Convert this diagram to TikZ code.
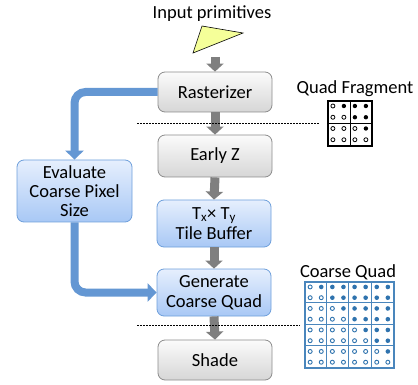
\documentclass[tikz,border=0pt]{standalone}
\usepackage{fontspec}
\setmainfont{Carlito}
\usetikzlibrary{arrows.meta,calc}
\definecolor{grayarr}{HTML}{7F7F7F}
\definecolor{grayedge}{HTML}{8C8C8C}
\definecolor{graytop}{HTML}{FBFBFB}
\definecolor{graybot}{HTML}{D6D6D6}
\definecolor{bluetop}{HTML}{E6EFFD}
\definecolor{bluebot}{HTML}{A8C8F5}
\definecolor{blueedge}{HTML}{6E9FDB}
\definecolor{blueline}{HTML}{6497D3}
\definecolor{griddot}{HTML}{2F73AE}
\definecolor{gridline}{HTML}{4A86BC}
\definecolor{tri}{HTML}{F5FF99}
\tikzset{
  x=1pt, y=-1pt,
  lbl/.style={font=\fontsize{18.5}{20}\selectfont, inner sep=0pt},
  graybox/.style={draw=grayedge, line width=0.8pt, rounded corners=7pt, top color=graytop, bottom color=graybot,
    minimum width=114pt, align=center, font=\fontsize{18.5}{20}\selectfont, inner sep=0pt},
  bluebox/.style={draw=blueedge, line width=0.8pt, rounded corners=7pt, top color=bluetop, bottom color=bluebot,
    minimum width=114pt, align=center, font=\fontsize{18.5}{20}\selectfont, inner sep=0pt},
  grayarrow/.style={draw=grayarr, line width=9pt, -{Triangle[width=17pt,length=8pt]}},
  bluearrow/.style={draw=blueline, line width=8pt, rounded corners=11pt, -{Triangle[width=18pt,length=9pt]}},
  sepline/.style={draw=black, line width=0.8pt, dash pattern=on 1.5pt off 1.5pt},
}
\begin{document}
\begin{tikzpicture}
\useasboundingbox (0,0) rectangle (418,385);
% title and triangle
\node[lbl, anchor=base] (title) at (212,19) {Input primitives};
\draw[black, line width=0.6pt, fill=tri] (202,26) -- (243,33) -- (193,53) -- cycle;
\coordinate (tribot) at (215,57);
% main column
\node[graybox, minimum height=40pt] (rast) at (215,92) {Rasterizer};
\node[graybox, minimum height=42pt] (early) at (215,156) {Early Z};
\node[bluebox, minimum height=47pt] (tile) at (214,223.5) {T\textsubscript{x}× T\textsubscript{y}\\Tile Buffer};
\node[bluebox, minimum height=47pt] (gen) at (214,292.5) {Generate\\Coarse Quad};
\node[graybox, minimum height=40pt] (shade) at (215,360) {Shade};
\node[bluebox, minimum width=115pt, minimum height=62pt, font=\fontsize{18.5}{19}\selectfont] (eval) at (74.5,191) {Evaluate\\Coarse Pixel\\Size};
% gray arrows
\draw[grayarrow] (tribot) -- (rast.north);
\draw[grayarrow] (rast.south) -- (early.north);
\draw[grayarrow] (early.south) -- (tile.north);
\draw[grayarrow] (tile.south) -- (gen.north);
\draw[grayarrow] (gen.south) -- (shade.north);
% blue arrows
\draw[bluearrow] (rast.west) -| (eval.north);
\draw[bluearrow] (eval.south) |- (gen.west);
% quad fragment
\node[lbl, anchor=base] (qftext) at (355,94) {Quad Fragment};
\node[draw=black, line width=1.2pt, minimum width=44pt, minimum height=45pt, inner sep=0pt] (qf) at (350,123.5) {};
\draw[black, line width=1pt] (qf.north) -- (qf.south) (qf.west) -- (qf.east);
\foreach \r in {0,...,3}{
  \foreach \c in {0,...,3}{
    \ifnum\c>\r
      \fill[black] ($(qf.north west)+(5.5+11*\c,5.6+11.25*\r)$) circle (2.2pt);
    \else
      \draw[black, line width=0.8pt, fill=white] ($(qf.north west)+(5.5+11*\c,5.6+11.25*\r)$) circle (2pt);
    \fi
  }
}
\coordinate (qfl) at (320,123);
\draw[sepline] (137,123) -- (qfl);
% coarse quad
\node[lbl, anchor=base] (cqtext) at (348,277) {Coarse Quad};
\node[draw=gridline, line width=1.3pt, minimum width=89pt, minimum height=86pt, inner sep=0pt] (cq) at (349.5,325) {};
\foreach \i in {1,2,3}{
  \draw[gridline, line width=1pt] ($(cq.north west)+(22.25*\i,0)$) -- ($(cq.south west)+(22.25*\i,0)$);
  \draw[gridline, line width=1pt] ($(cq.north west)+(0,21.5*\i)$) -- ($(cq.north east)+(0,21.5*\i)$);
}
\foreach \r in {0,...,7}{
  \foreach \c in {0,...,7}{
    \ifnum\c>\r
      \fill[griddot] ($(cq.north west)+(5.8+11.1*\c,5.6+10.75*\r)$) circle (2.3pt);
    \else
      \draw[griddot, line width=0.9pt, fill=white] ($(cq.north west)+(5.8+11.1*\c,5.6+10.75*\r)$) circle (2pt);
    \fi
  }
}
\coordinate (cql) at (300,325);
\draw[sepline] (137,325) -- (cql);
\end{tikzpicture}
\end{document}
